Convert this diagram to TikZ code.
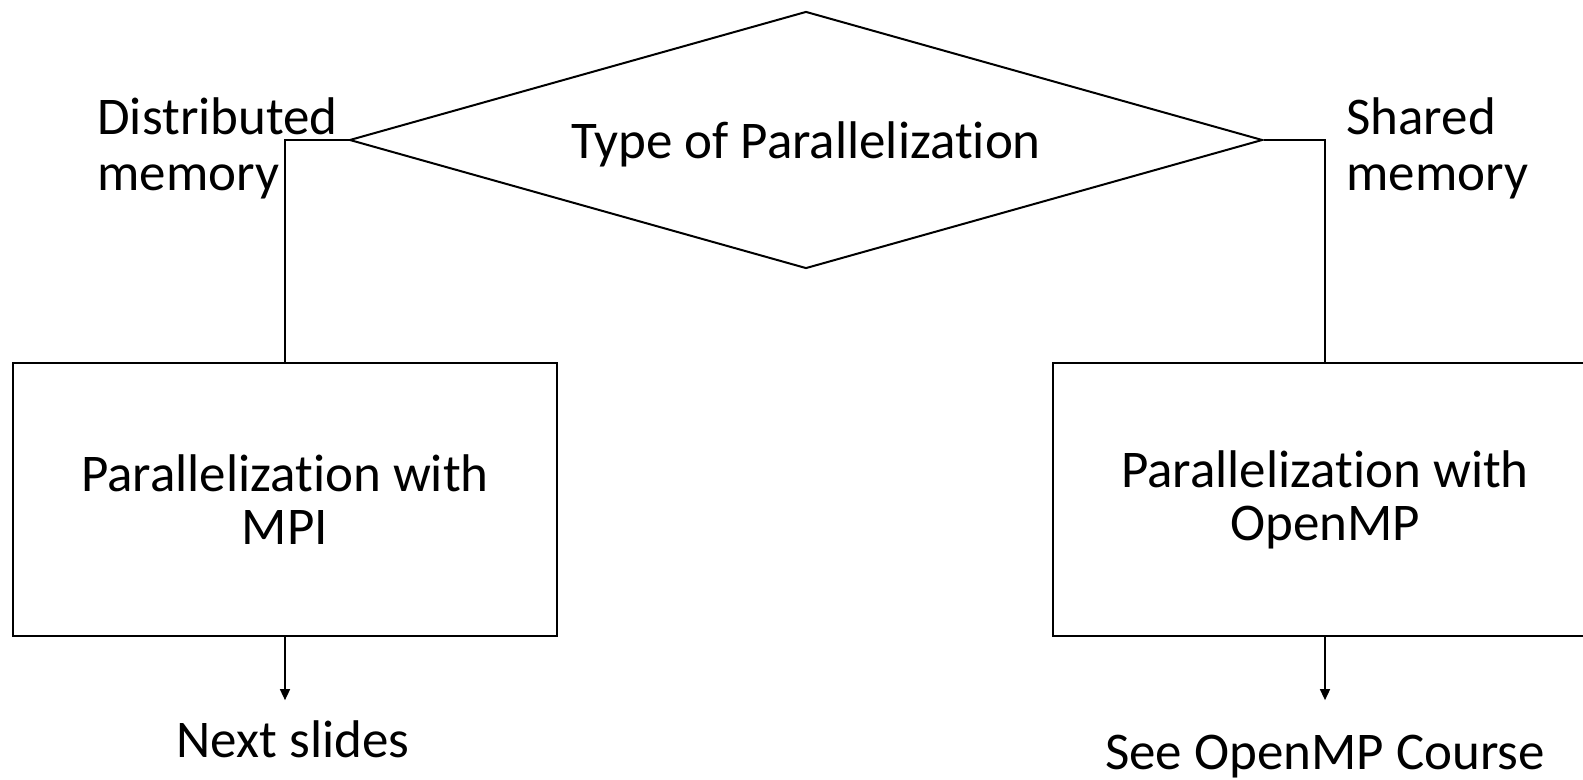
\documentclass[tikz,border=0pt]{standalone}
\usepackage{fontspec}
\setmainfont[Ligatures=NoCommon]{Carlito}
\usetikzlibrary{shapes.geometric, arrows.meta, positioning}
\tikzset{
    decision/.style={diamond, draw, line width=1pt, aspect=3.55, minimum width=456.5pt, minimum height=128.5pt, inner sep=0pt, text depth=0pt, font=\fontsize{26.5}{26.5}\selectfont},
    block/.style={rectangle, draw, line width=1.15pt, minimum width=272pt, minimum height=136.5pt, align=center, font=\fontsize{26.5}{26.5}\selectfont},
    branch/.style={align=left, inner sep=0pt, font=\fontsize{26.5}{28}\selectfont},
    note/.style={inner sep=0pt, font=\fontsize{26.5}{26.5}\selectfont},
    line/.style={line width=0.75pt},
    arrow/.style={-{Triangle[length=5.5pt, width=5pt]}, line width=0.75pt},
}

\begin{document}
\begin{tikzpicture}[x=0.5pt, y=-0.5pt]
    \useasboundingbox (0,0) rectangle (1583,780);

    \node[decision] (type) at (806,140) {Type of Parallelization};

    \node[block] (mpi) at (285,499.5) {Parallelization with\\MPI};
    \node[block] (omp) at (1325,499.5) {Parallelization with\\OpenMP};

    \node[branch, anchor=west] (distributed) at (97,148) {Distributed\\memory};
    \node[branch, anchor=west] (shared) at (1346,148) {Shared\\memory};

    \coordinate[below=31.5pt of mpi.south] (mpiend);
    \coordinate[below=31.5pt of omp.south] (ompend);

    \node[note, anchor=base] (nextslides) at (293,757) {Next slides};
    \node[note, anchor=base] (seecourse) at (1325,769) {See OpenMP Course};

    \draw[line] (type.west) -| (mpi.north);
    \draw[line] (type.east) -| (omp.north);
    \draw[arrow] (mpi) -- (mpiend);
    \draw[arrow] (omp) -- (ompend);
\end{tikzpicture}
\end{document}
